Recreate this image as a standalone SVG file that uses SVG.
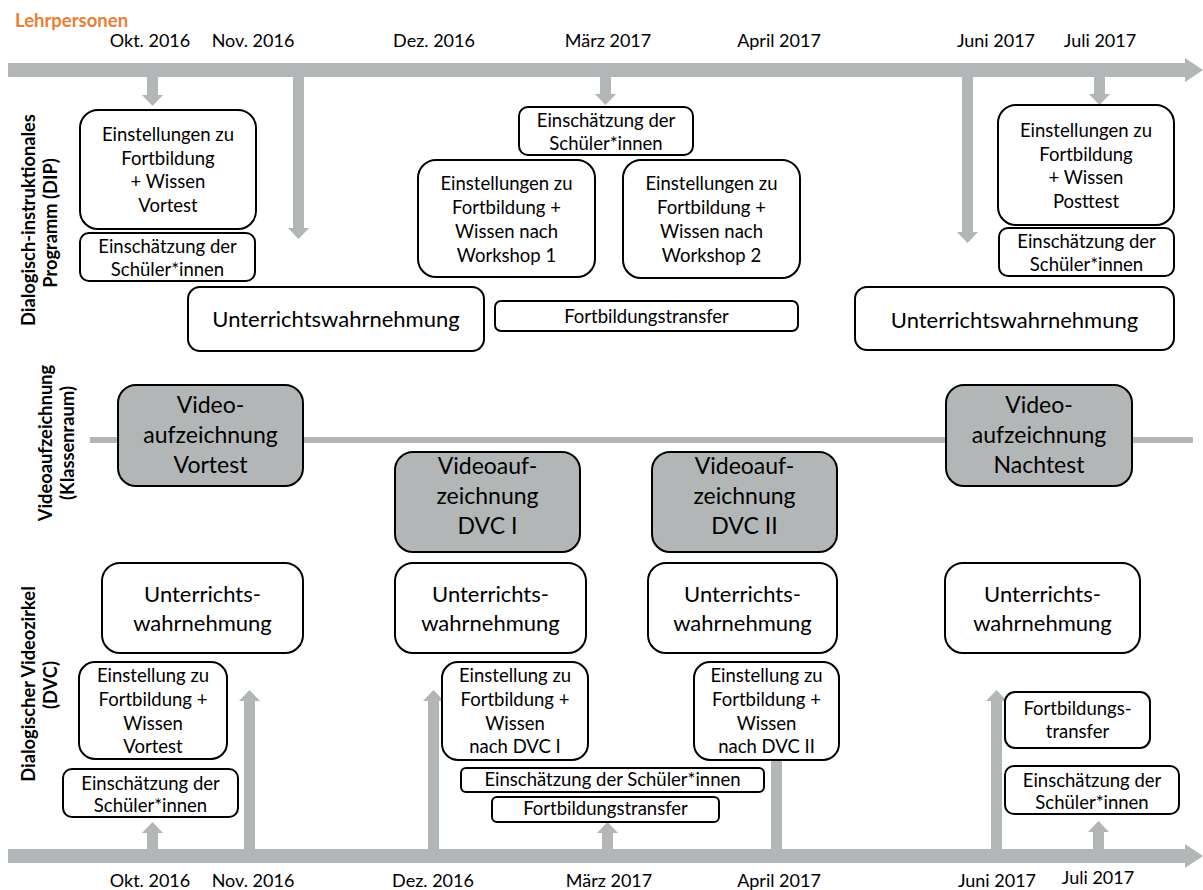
<svg xmlns="http://www.w3.org/2000/svg" width="1203" height="890" viewBox="0 0 1203 890">
<style>
.box{fill:#fff;stroke:#000;stroke-width:2}
.gbox{fill:#b3b6b6;stroke:#000;stroke-width:2}
.con{fill:#b3b6b6;stroke:none}
text{font-family:Lato,"Liberation Sans",sans-serif;fill:#000;text-anchor:middle}
.s{font-size:18.5px}
.d{font-size:18px}
.l{font-size:22px}
.g{font-size:23px}
.v{font-size:18.3px;font-weight:bold}
.h{font-size:18.5px;font-weight:bold;fill:#ed7d31;text-anchor:start}
</style>
<rect width="1203" height="890" fill="#fff"/>
<g id="connectors">
<polygon class="con" points="8,63 1185,63 1185,58 1203,70 1185,82 1185,77 8,77"/>
<polygon class="con" points="8,849 1185,849 1185,844 1203,856 1185,868 1185,863 8,863"/>
<rect class="con" x="90" y="437" width="1103" height="6"/>
<polygon class="con" points="147,77 158,77 158,95 163,95 152.5,106 142,95 147,95"/>
<polygon class="con" points="293,77 304,77 304,228 309,228 298.5,239 288,228 293,228"/>
<polygon class="con" points="600,77 611,77 611,94 616,94 605.5,105 595,94 600,94"/>
<polygon class="con" points="962,77 973,77 973,232 978,232 967.5,243 957,232 962,232"/>
<polygon class="con" points="1094,77 1105,77 1105,94 1110,94 1099.5,105 1089,94 1094,94"/>
<polygon class="con" points="147,849 158,849 158,833 163,833 152.5,822 142,833 147,833"/>
<polygon class="con" points="244,849 255,849 255,701 260,701 249.5,690 239,701 244,701"/>
<polygon class="con" points="428,849 439,849 439,701 444,701 433.5,690 423,701 428,701"/>
<polygon class="con" points="602,849 613,849 613,833 618,833 607.5,822 597,833 602,833"/>
<rect class="con" x="771" y="760" width="11" height="89"/>
<polygon class="con" points="991,849 1002,849 1002,701 1007,701 996.5,690 986,701 991,701"/>
<polygon class="con" points="1093,849 1104,849 1104,832 1109,832 1098.5,821 1088,832 1093,832"/>
</g>
<g id="labels">
<text class="h" x="15" y="27">Lehrpersonen</text>
<text class="d" x="150" y="47">Okt. 2016</text>
<text class="d" x="253" y="47">Nov. 2016</text>
<text class="d" x="434" y="47">Dez. 2016</text>
<text class="d" x="608" y="47">März 2017</text>
<text class="d" x="779" y="47">April 2017</text>
<text class="d" x="996" y="47">Juni 2017</text>
<text class="d" x="1100" y="47">Juli 2017</text>
<text class="d" x="150" y="887">Okt. 2016</text>
<text class="d" x="253" y="887">Nov. 2016</text>
<text class="d" x="433" y="887">Dez. 2016</text>
<text class="d" x="609" y="887">März 2017</text>
<text class="d" x="779" y="887">April 2017</text>
<text class="d" x="997" y="887">Juni 2017</text>
<text class="d" x="1098" y="884">Juli 2017</text>
<text class="v" transform="translate(35,220) rotate(-90)">Dialogisch-instruktionales</text>
<text class="v" transform="translate(57,223) rotate(-90)">Programm (DIP)</text>
<text class="v" transform="translate(52,443) rotate(-90)">Videoaufzeichnung</text>
<text class="v" transform="translate(74,443) rotate(-90)">(Klassenraum)</text>
<text class="v" transform="translate(35,684) rotate(-90)">Dialogischer Videozirkel</text>
<text class="v" transform="translate(57,685) rotate(-90)">(DVC)</text>
</g>
<g id="dip-einstellungen-vortest">
<rect class="box" x="80" y="110" width="176" height="119" rx="18"/>
<text class="s" x="168" y="141">Einstellungen zu</text>
<text class="s" x="168" y="164.5">Fortbildung</text>
<text class="s" x="168" y="188">+ Wissen</text>
<text class="s" x="168" y="211.5">Vortest</text>
</g>
<g id="dip-einschaetzung-okt">
<rect class="box" x="80" y="233" width="175" height="48" rx="9"/>
<text class="s" x="167.5" y="253">Einschätzung der</text>
<text class="s" x="167.5" y="276">Schüler*innen</text>
</g>
<g id="dip-unterricht-1">
<rect class="box" x="188" y="287" width="296" height="64" rx="12"/>
<text class="l" x="336" y="327">Unterrichtswahrnehmung</text>
</g>
<g id="dip-einschaetzung-maerz">
<rect class="box" x="519" y="107" width="174" height="48" rx="9"/>
<text class="s" x="606" y="127">Einschätzung der</text>
<text class="s" x="606" y="150">Schüler*innen</text>
</g>
<g id="dip-workshop1">
<rect class="box" x="418" y="160" width="177" height="117" rx="18"/>
<text class="s" x="506.5" y="190">Einstellungen zu</text>
<text class="s" x="506.5" y="213.5">Fortbildung +</text>
<text class="s" x="506.5" y="238">Wissen nach</text>
<text class="s" x="506.5" y="262">Workshop 1</text>
</g>
<g id="dip-workshop2">
<rect class="box" x="623" y="160" width="177" height="118" rx="18"/>
<text class="s" x="711.5" y="190">Einstellungen zu</text>
<text class="s" x="711.5" y="213.5">Fortbildung +</text>
<text class="s" x="711.5" y="238">Wissen nach</text>
<text class="s" x="711.5" y="262">Workshop 2</text>
</g>
<g id="dip-transfer">
<rect class="box" x="495" y="301" width="303" height="30" rx="6"/>
<text class="s" x="646.5" y="323">Fortbildungstransfer</text>
</g>
<g id="dip-posttest">
<rect class="box" x="998" y="105" width="176" height="120" rx="18"/>
<text class="s" x="1086" y="137">Einstellungen zu</text>
<text class="s" x="1086" y="160.5">Fortbildung</text>
<text class="s" x="1086" y="184">+ Wissen</text>
<text class="s" x="1086" y="208">Posttest</text>
</g>
<g id="dip-einschaetzung-juli">
<rect class="box" x="999" y="228" width="175" height="48" rx="9"/>
<text class="s" x="1086.5" y="248">Einschätzung der</text>
<text class="s" x="1086.5" y="271">Schüler*innen</text>
</g>
<g id="dip-unterricht-2">
<rect class="box" x="855" y="287" width="319" height="63" rx="12"/>
<text class="l" x="1014.5" y="328">Unterrichtswahrnehmung</text>
</g>
<g id="video-vortest">
<rect class="gbox" x="118" y="385" width="185" height="101" rx="18"/>
<text class="g" x="210.5" y="413">Video-</text>
<text class="g" x="210.5" y="443">aufzeichnung</text>
<text class="g" x="210.5" y="473">Vortest</text>
</g>
<g id="video-dvc1">
<rect class="gbox" x="395" y="452" width="185" height="100" rx="18"/>
<text class="g" x="487.5" y="474">Videoauf-</text>
<text class="g" x="487.5" y="504">zeichnung</text>
<text class="g" x="487.5" y="534">DVC I</text>
</g>
<g id="video-dvc2">
<rect class="gbox" x="652" y="452" width="185" height="100" rx="18"/>
<text class="g" x="744.5" y="474">Videoauf-</text>
<text class="g" x="744.5" y="504">zeichnung</text>
<text class="g" x="744.5" y="534">DVC II</text>
</g>
<g id="video-nachtest">
<rect class="gbox" x="946" y="385" width="186" height="101" rx="18"/>
<text class="g" x="1039" y="413">Video-</text>
<text class="g" x="1039" y="443">aufzeichnung</text>
<text class="g" x="1039" y="473">Nachtest</text>
</g>
<g id="dvc-unterricht-1">
<rect class="box" x="102" y="563" width="201" height="90" rx="18"/>
<text class="l" x="202.5" y="602">Unterrichts-</text>
<text class="l" x="202.5" y="631">wahrnehmung</text>
</g>
<g id="dvc-unterricht-2">
<rect class="box" x="395" y="563" width="191" height="90" rx="18"/>
<text class="l" x="490.5" y="602">Unterrichts-</text>
<text class="l" x="490.5" y="631">wahrnehmung</text>
</g>
<g id="dvc-unterricht-3">
<rect class="box" x="648" y="563" width="189" height="90" rx="18"/>
<text class="l" x="742.5" y="602">Unterrichts-</text>
<text class="l" x="742.5" y="631">wahrnehmung</text>
</g>
<g id="dvc-unterricht-4">
<rect class="box" x="945" y="563" width="195" height="90" rx="18"/>
<text class="l" x="1042.5" y="602">Unterrichts-</text>
<text class="l" x="1042.5" y="631">wahrnehmung</text>
</g>
<g id="dvc-einstellung-vortest">
<rect class="box" x="79" y="662" width="148" height="97" rx="16"/>
<text class="s" x="153" y="682">Einstellung zu</text>
<text class="s" x="153" y="706">Fortbildung +</text>
<text class="s" x="153" y="730">Wissen</text>
<text class="s" x="153" y="753">Vortest</text>
</g>
<g id="dvc-einschaetzung-okt">
<rect class="box" x="63" y="769" width="175" height="48" rx="9"/>
<text class="s" x="150.5" y="790">Einschätzung der</text>
<text class="s" x="150.5" y="812">Schüler*innen</text>
</g>
<g id="dvc-einstellung-dvc1">
<rect class="box" x="442" y="662" width="146" height="98" rx="16"/>
<text class="s" x="515" y="682">Einstellung zu</text>
<text class="s" x="515" y="706">Fortbildung +</text>
<text class="s" x="515" y="730">Wissen</text>
<text class="s" x="515" y="753">nach DVC I</text>
</g>
<g id="dvc-einstellung-dvc2">
<rect class="box" x="694" y="662" width="145" height="98" rx="16"/>
<text class="s" x="766.5" y="682">Einstellung zu</text>
<text class="s" x="766.5" y="706">Fortbildung +</text>
<text class="s" x="766.5" y="730">Wissen</text>
<text class="s" x="766.5" y="753">nach DVC II</text>
</g>
<g id="dvc-einschaetzung-maerz">
<rect class="box" x="461" y="768" width="303" height="24" rx="5"/>
<text class="s" x="612.5" y="786">Einschätzung der Schüler*innen</text>
</g>
<g id="dvc-transfer-maerz">
<rect class="box" x="492" y="797" width="227" height="25" rx="5"/>
<text class="s" x="605.5" y="815">Fortbildungstransfer</text>
</g>
<g id="dvc-transfer-juni">
<rect class="box" x="1005" y="692" width="145" height="56" rx="10"/>
<text class="s" x="1077.5" y="715">Fortbildungs-</text>
<text class="s" x="1077.5" y="738">transfer</text>
</g>
<g id="dvc-einschaetzung-juli">
<rect class="box" x="1005" y="766" width="174" height="48" rx="9"/>
<text class="s" x="1092" y="787">Einschätzung der</text>
<text class="s" x="1092" y="809">Schüler*innen</text>
</g>
</svg>
